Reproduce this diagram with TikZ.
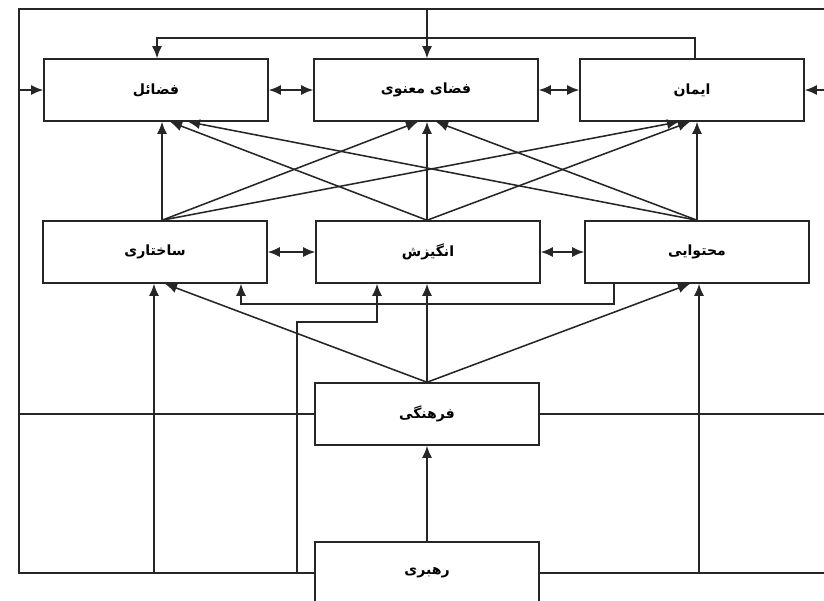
\documentclass[tikz,border=0pt]{standalone}
\usepackage{fontspec}
\usetikzlibrary{arrows.meta}
\TeXXeTstate=1
\newfontfamily\arabicfont[Script=Arabic]{DejaVu Sans}
\newcommand{\fa}[1]{{\arabicfont\bfseries\beginR #1\endR}}

\begin{document}
\begin{tikzpicture}[x=0.25mm,y=-0.25mm,>={Latex[length=3mm,width=2.5mm]}]
    	\colorlet{linecolor}{black!85}
    	\tikzset{factor/.style={draw=linecolor,line width=1.1pt,minimum width=56mm,
    	    minimum height=15.5mm,inner sep=0pt,font=\normalsize},
    	  link/.style={draw=linecolor,line width=1.1pt}}

    	\useasboundingbox (0,0) rectangle (824,600);

    	% factors
    	\node[factor] (fazael) at (156,90) {\fa{فضائل}};
    	\node[factor] (fazaye) at (426,90) {\fa{فضای معنوی}};
    	\node[factor] (iman) at (692,90) {\fa{ایمان}};
    	\node[factor] (sakhtari) at (155,252) {\fa{ساختاری}};
    	\node[factor] (angizesh) at (428,252) {\fa{انگیزش}};
    	\node[factor] (mohtavai) at (697,252) {\fa{محتوایی}};
    	\node[factor] (farhangi) at (427,414) {\fa{فرهنگی}};
    	\node[factor] (rahbari) at (427,573) {\fa{رهبری}};

    	% outer frame
    	\coordinate (frameTL) at (19,9);
    	\coordinate (frameTR) at (824,9);
    	\coordinate (frameBL) at (19,573);
    	\coordinate (frameBR) at (824,573);
    	\draw[link] (frameTR) -- (frameTL) -- (frameBL) -- (rahbari.west);
    	\draw[link] (rahbari.east) -- (frameBR);
    	\draw[link,->] (frameTL |- fazael.west) -- (fazael.west);
    	\draw[link,->] (frameTR |- iman.east) -- (iman.east);
    	\draw[link,->] (frameTL -| 427,0) -- (fazaye.north -| 427,0);
    	\draw[link,->] (iman.north -| 695,0) -- (695,38) -- (157,38)
    	  -- (fazael.north -| 157,0);

    	% neighbours
    	\draw[link,<->] (fazael) -- (fazaye);
    	\draw[link,<->] (fazaye) -- (iman);
    	\draw[link,<->] (sakhtari) -- (angizesh);
    	\draw[link,<->] (angizesh) -- (mohtavai);

    	% middle row to top row
    	\foreach \src/\sx/\dst/\dx in {sakhtari/162/fazael/162,sakhtari/162/fazaye/418,
    	    sakhtari/162/iman/679,angizesh/427/fazael/170,angizesh/427/fazaye/427,
    	    angizesh/427/iman/690,mohtavai/697/fazael/188,mohtavai/697/fazaye/436,
    	    mohtavai/697/iman/697}
    	  \draw[link,->] (\src.north -| \sx,0) -- (\dst.south -| \dx,0);

    	% lower part
    	\draw[link,->] (frameBL -| 154,0) -- (sakhtari.south -| 154,0);
    	\draw[link,->] (frameBR -| 699,0) -- (mohtavai.south -| 699,0);
    	\draw[link,->] (farhangi.north) -- (sakhtari.south -| 165,0);
    	\draw[link,->] (farhangi.north) -- (angizesh.south -| farhangi.north);
    	\draw[link,->] (farhangi.north) -- (mohtavai.south -| 690,0);
    	\draw[link,->] (mohtavai.south -| 614,0) -- (614,304) -- (241,304)
    	  -- (sakhtari.south -| 241,0);
    	\draw[link,->] (frameBL -| 297,0) -- (297,322) -- (377,322)
    	  -- (angizesh.south -| 377,0);
    	\draw[link] (frameBL |- farhangi.west) -- (farhangi.west);
    	\draw[link] (farhangi.east) -- (frameBR |- farhangi.east);
    	\draw[link,->] (rahbari) -- (farhangi);
\end{tikzpicture}
\end{document}
